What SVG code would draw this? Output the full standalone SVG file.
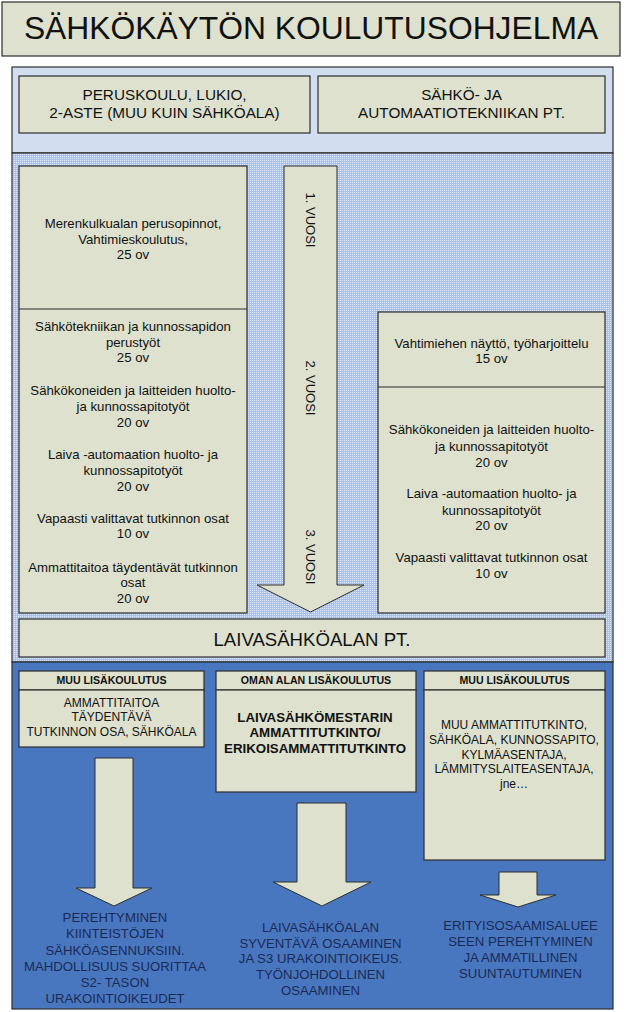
<svg xmlns="http://www.w3.org/2000/svg" width="628" height="1012" viewBox="0 0 628 1012">
<style>
text{font-family:"Liberation Sans",Arial,sans-serif;fill:#111;text-anchor:middle}
.box{fill:#DDE1CE;stroke:#2E2E2E;stroke-width:1.2}
.arr{fill:#DDE1CE;stroke:#2E2E2E;stroke-width:1}
.s13{font-size:13.2px}
.s12{font-size:12px}
.s15{font-size:15.3px}
.hd{font-size:10.6px;font-weight:bold}
.bd{font-size:13.3px;font-weight:bold}
.nv{font-size:13.2px;fill:#1B2A55}
.v{font-size:13px}
</style>
<defs>
<pattern id="dots" width="2" height="2" patternUnits="userSpaceOnUse">
<rect width="2" height="2" fill="#AAC2EA"/>
<rect width="1" height="1" fill="#DCE7F8"/>
</pattern>
</defs>
<rect width="628" height="1012" fill="#FFFFFF"/>
<g id="title">
<rect x="2" y="2" width="618" height="54" class="box"/>
<text x="311" y="39" style="font-size:31.8px">SÄHKÖKÄYTÖN KOULUTUSOHJELMA</text>
</g>
<g id="panels">
<rect x="12" y="67" width="601" height="86" fill="#D2DDF0" stroke="#2E2E2E" stroke-width="1.2"/>
<rect x="12" y="153" width="601" height="509" fill="url(#dots)" stroke="#2E2E2E" stroke-width="1.2"/>
<rect x="12" y="662" width="601" height="347" fill="#4877C0" stroke="#2E2E2E" stroke-width="1.2"/>
</g>
<g id="peruskoulu">
<rect x="19" y="76" width="291" height="57" class="box"/>
<text class="s15" x="164.5" y="100">PERUSKOULU, LUKIO,</text>
<text class="s15" x="164.5" y="118">2-ASTE (MUU KUIN SÄHKÖALA)</text>
</g>
<g id="sahkopt">
<rect x="318" y="76" width="287" height="57" class="box"/>
<text class="s15" x="461.5" y="100">SÄHKÖ- JA</text>
<text class="s15" x="461.5" y="118">AUTOMAATIOTEKNIIKAN PT.</text>
</g>
<g id="connectors">
<polygon class="arr" points="284,166 337,166 337,585 364,585 310.5,612 257,585 284,585"/>
<polygon class="arr" points="95,758 133,758 133,888 152,888 114,906 76,888 95,888"/>
<polygon class="arr" points="297,803 346,803 346,882 371,882 322,906 273,882 297,882"/>
<polygon class="arr" points="499,872 537,872 537,895 556,895 518,907 480,895 499,895"/>
</g>
<g id="vuosi">
<text class="v" transform="translate(306,220) rotate(90)">1. VUOSI</text>
<text class="v" transform="translate(306,388) rotate(90)">2. VUOSI</text>
<text class="v" transform="translate(306,557) rotate(90)">3. VUOSI</text>
</g>
<g id="left-column">
<rect x="19" y="166" width="228" height="447" class="box"/>
<line x1="19" y1="309" x2="247" y2="309" stroke="#2E2E2E" stroke-width="1.2"/>
<text class="s13" x="133" y="228">Merenkulkualan perusopinnot,</text>
<text class="s13" x="133" y="243.5">Vahtimieskoulutus,</text>
<text class="s13" x="133" y="259">25 ov</text>
<text class="s13" x="133" y="331">Sähkötekniikan ja kunnossapidon</text>
<text class="s13" x="133" y="347">perustyöt</text>
<text class="s13" x="133" y="362">25 ov</text>
<text class="s13" x="133" y="395">Sähkökoneiden ja laitteiden huolto-</text>
<text class="s13" x="133" y="411">ja kunnossapitotyöt</text>
<text class="s13" x="133" y="427">20 ov</text>
<text class="s13" x="133" y="459">Laiva -automaation huolto- ja</text>
<text class="s13" x="133" y="475">kunnossapitotyöt</text>
<text class="s13" x="133" y="491">20 ov</text>
<text class="s13" x="133" y="523">Vapaasti valittavat tutkinnon osat</text>
<text class="s13" x="133" y="538">10 ov</text>
<text class="s13" x="133" y="572">Ammattitaitoa täydentävät tutkinnon</text>
<text class="s13" x="133" y="587">osat</text>
<text class="s13" x="133" y="603">20 ov</text>
</g>
<g id="right-column">
<rect x="378" y="312" width="227" height="301" class="box"/>
<line x1="378" y1="387" x2="605" y2="387" stroke="#2E2E2E" stroke-width="1.2"/>
<text class="s13" x="491.5" y="348">Vahtimiehen näyttö, työharjoittelu</text>
<text class="s13" x="491.5" y="363">15 ov</text>
<text class="s13" x="491.5" y="434">Sähkökoneiden ja laitteiden huolto-</text>
<text class="s13" x="491.5" y="451">ja kunnossapitotyöt</text>
<text class="s13" x="491.5" y="467">20 ov</text>
<text class="s13" x="491.5" y="498">Laiva -automaation huolto- ja</text>
<text class="s13" x="491.5" y="515">kunnossapitotyöt</text>
<text class="s13" x="491.5" y="530">20 ov</text>
<text class="s13" x="491.5" y="562">Vapaasti valittavat tutkinnon osat</text>
<text class="s13" x="491.5" y="578">10 ov</text>
</g>
<g id="laivapt">
<rect x="19" y="619" width="586" height="38" class="box"/>
<text x="312" y="645.5" style="font-size:18.6px">LAIVASÄHKÖALAN PT.</text>
</g>
<g id="muu-1">
<rect x="19" y="671" width="185" height="19" class="box"/>
<rect x="19" y="690" width="185" height="57" class="box"/>
<text class="hd" x="111.5" y="684">MUU LISÄKOULUTUS</text>
<text class="s12" x="111.5" y="706.5">AMMATTITAITOA</text>
<text class="s12" x="111.5" y="721">TÄYDENTÄVÄ</text>
<text class="s12" x="111.5" y="735.5">TUTKINNON OSA, SÄHKÖALA</text>
</g>
<g id="oman-alan">
<rect x="216" y="671" width="200" height="19" class="box"/>
<rect x="216" y="690" width="200" height="102" class="box"/>
<text class="hd" x="316" y="684">OMAN ALAN LISÄKOULUTUS</text>
<text class="bd" x="315" y="722">LAIVASÄHKÖMESTARIN</text>
<text class="bd" x="315" y="737">AMMATTITUTKINTO/</text>
<text class="bd" x="315" y="753">ERIKOISAMMATTITUTKINTO</text>
</g>
<g id="muu-2">
<rect x="424" y="671" width="181" height="19" class="box"/>
<rect x="424" y="690" width="181" height="170" class="box"/>
<text class="hd" x="514.5" y="684">MUU LISÄKOULUTUS</text>
<text class="s12" x="514" y="729">MUU AMMATTITUTKINTO,</text>
<text class="s12" x="514" y="743.5">SÄHKÖALA, KUNNOSSAPITO,</text>
<text class="s12" x="514" y="758.5">KYLMÄASENTAJA,</text>
<text class="s12" x="514" y="773">LÄMMITYSLAITEASENTAJA,</text>
<text class="s12" x="514" y="787.5">jne…</text>
</g>
<g id="result-1">
<text class="nv" x="115" y="922">PEREHTYMINEN</text>
<text class="nv" x="115" y="938">KIINTEISTÖJEN</text>
<text class="nv" x="115" y="955">SÄHKÖASENNUKSIIN.</text>
<text class="nv" x="115" y="971">MAHDOLLISUUS SUORITTAA</text>
<text class="nv" x="115" y="987">S2- TASON</text>
<text class="nv" x="115" y="1003">URAKOINTIOIKEUDET</text>
</g>
<g id="result-2">
<text class="nv" x="320.5" y="931.5">LAIVASÄHKÖALAN</text>
<text class="nv" x="320.5" y="947.5">SYVENTÄVÄ OSAAMINEN</text>
<text class="nv" x="320.5" y="963">JA S3 URAKOINTIOIKEUS.</text>
<text class="nv" x="320.5" y="979">TYÖNJOHDOLLINEN</text>
<text class="nv" x="320.5" y="995">OSAAMINEN</text>
</g>
<g id="result-3">
<text class="nv" x="520.5" y="930">ERITYISOSAAMISALUEE</text>
<text class="nv" x="520.5" y="946">SEEN PEREHTYMINEN</text>
<text class="nv" x="520.5" y="962">JA AMMATILLINEN</text>
<text class="nv" x="520.5" y="978">SUUNTAUTUMINEN</text>
</g>
</svg>
